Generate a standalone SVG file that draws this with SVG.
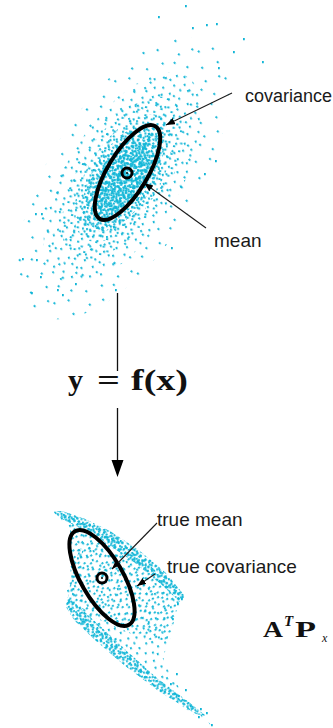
<svg xmlns="http://www.w3.org/2000/svg" width="333" height="728" viewBox="0 0 333 728">
<style>
.lbl{font-family:"Liberation Sans",Arial,sans-serif;font-size:19px;fill:#1a1a1a}
.math{font-family:"Liberation Serif","Times New Roman",serif;font-weight:bold;fill:#111}
.lead{stroke:#1a1a1a;stroke-width:1.1;fill:none}
.ell{fill:none;stroke:#000;stroke-width:4}
.mean{fill:none;stroke:#000;stroke-width:3}
.dot{fill:#12b6d7}
</style>
<defs>
<marker id="ah" markerUnits="userSpaceOnUse" markerWidth="10" markerHeight="8" refX="9" refY="3.5" orient="auto"><path d="M0,0 L9,3.5 L0,7 Z" fill="#000"/></marker>
<pattern id="pA" patternUnits="userSpaceOnUse" width="40" height="38" patternTransform="rotate(13)"><path class="dot" d="M3 4h1.8v2.2h-1.8zM22 1h1.8v2.2h-1.8zM34 9h1.8v2.2h-1.8zM13 15h1.8v2.2h-1.8zM28 22h1.8v2.2h-1.8zM6 27h1.8v2.2h-1.8zM19 33h1.8v2.2h-1.8zM37 30h1.8v2.2h-1.8z"/></pattern>
<pattern id="pB" patternUnits="userSpaceOnUse" width="34" height="30" patternTransform="rotate(37)"><path class="dot" d="M2 2h1.8v2.2h-1.8zM12 5h1.8v2.2h-1.8zM23 1h1.8v2.2h-1.8zM30 8h1.8v2.2h-1.8zM7 11h1.8v2.2h-1.8zM18 13h1.8v2.2h-1.8zM27 16h1.8v2.2h-1.8zM1 19h1.8v2.2h-1.8zM12 21h1.8v2.2h-1.8zM22 24h1.8v2.2h-1.8zM31 25h1.8v2.2h-1.8zM5 27h1.8v2.2h-1.8zM16 27.5h1.8v2.2h-1.8zM26 6h1.8v2.2h-1.8z"/></pattern>
<pattern id="pC" patternUnits="userSpaceOnUse" width="30" height="26" patternTransform="rotate(-21)"><path class="dot" d="M1 3h1.8v2.2h-1.8zM9 1h1.8v2.2h-1.8zM17 4h1.8v2.2h-1.8zM25 2h1.8v2.2h-1.8zM5 9h1.8v2.2h-1.8zM13 8h1.8v2.2h-1.8zM21 11h1.8v2.2h-1.8zM28 13h1.8v2.2h-1.8zM2 16h1.8v2.2h-1.8zM10 17h1.8v2.2h-1.8zM18 19h1.8v2.2h-1.8zM26 21h1.8v2.2h-1.8zM6 23h1.8v2.2h-1.8zM14 23.5h1.8v2.2h-1.8z"/></pattern>
<pattern id="pD" patternUnits="userSpaceOnUse" width="24" height="22" patternTransform="rotate(52)"><path class="dot" d="M2 1h1.8v2.2h-1.8zM9 3h1.8v2.2h-1.8zM15 0h1.8v2.2h-1.8zM21 4h1.8v2.2h-1.8zM5 7h1.8v2.2h-1.8zM12 9h1.8v2.2h-1.8zM19 10h1.8v2.2h-1.8zM1 12h1.8v2.2h-1.8zM8 14h1.8v2.2h-1.8zM15 15h1.8v2.2h-1.8zM22 16h1.8v2.2h-1.8zM4 19h1.8v2.2h-1.8zM11 19.5h1.8v2.2h-1.8zM18 19h1.8v2.2h-1.8zM13 5h1.8v2.2h-1.8zM6 2h1.8v2.2h-1.8z"/></pattern>
<pattern id="pD2" href="#pD" patternTransform="rotate(-40)"/>
<pattern id="pE" patternUnits="userSpaceOnUse" width="20" height="18" patternTransform="rotate(8)"><path class="dot" d="M1 2h1.8v2.2h-1.8zM5 0h1.8v2.2h-1.8zM9 3h1.8v2.2h-1.8zM14 1h1.8v2.2h-1.8zM18 4h1.8v2.2h-1.8zM3 7h1.8v2.2h-1.8zM7 9h1.8v2.2h-1.8zM12 6h1.8v2.2h-1.8zM16 8h1.8v2.2h-1.8zM0 12h1.8v2.2h-1.8zM5 13h1.8v2.2h-1.8zM10 11h1.8v2.2h-1.8zM14 14h1.8v2.2h-1.8zM18 12h1.8v2.2h-1.8zM2 15.5h1.8v2.2h-1.8zM8 15.5h1.8v2.2h-1.8zM12 15.5h1.8v2.2h-1.8zM16 15.5h1.8v2.2h-1.8z"/></pattern>
<pattern id="pE2" href="#pE" patternTransform="rotate(-27)"/>
<pattern id="pE3" href="#pE" patternTransform="rotate(71)"/>
</defs>

<g id="top-cloud">
<g transform="translate(123,178) rotate(-58)">
<ellipse rx="160" ry="74" fill="url(#pA)"/>
<ellipse rx="120" ry="56" fill="url(#pB)"/>
<ellipse rx="92" ry="44" fill="url(#pC)"/>
<ellipse rx="72" ry="36" fill="url(#pD)"/>
<ellipse rx="60" ry="30" fill="url(#pE)"/>
<ellipse rx="50" ry="25" fill="url(#pD2)"/>
<ellipse rx="44" ry="22" fill="url(#pE3)"/>
<ellipse rx="38" ry="18" fill="url(#pE2)"/>
</g>
<path class="dot" d="M185 5h1.8v2.2h-1.8zM158 16h1.8v2.2h-1.8zM192 27h1.8v2.2h-1.8zM206 24h1.8v2.2h-1.8zM216 23h1.8v2.2h-1.8zM243 38h1.8v2.2h-1.8zM233 51h1.8v2.2h-1.8zM262 61h1.8v2.2h-1.8zM218 67h1.8v2.2h-1.8zM22 258h1.8v2.2h-1.8zM36 259h1.8v2.2h-1.8zM40 276h1.8v2.2h-1.8zM31 292h1.8v2.2h-1.8zM57 289h1.8v2.2h-1.8zM62 294h1.8v2.2h-1.8zM75 283h1.8v2.2h-1.8zM35 213h1.8v2.2h-1.8zM41 213h1.8v2.2h-1.8zM115 289h1.8v2.2h-1.8zM171 247h1.8v2.2h-1.8zM215 160h1.8v2.2h-1.8zM204 173h1.8v2.2h-1.8z"/>
</g>
<g id="top-ellipse">
<ellipse class="ell" cx="127.5" cy="172.5" rx="54" ry="20" transform="rotate(-59 127.5 172.5)"/>
<circle class="mean" cx="127" cy="173" r="5"/>
<circle cx="127" cy="173" r="1" fill="#000"/>
</g>

<g id="bottom-cloud">
<path fill="url(#pC)" d="M54,512 L75,517 L100,527 L130,549 L160,574 L184,597 L176,612 L169,632 L163,662 L185,697 L213,727 L196,716 L168,696 L138,671 L108,645 L84,625 L69,610 L65,590 L68,570 L70,548 L66,528 Z"/>
<path fill="url(#pD)" d="M70,520 L100,527 L130,549 L160,574 L184,597 L176,612 L170,640 L150,640 L120,630 L90,615 L72,600 L70,560 Z"/>
<path fill="url(#pE)" d="M52,511 L62,511 L85,519 L110,531 L140,551 L166,573 L185,596 L180,602 L162,585 L135,563 L105,542 L80,528 L62,519 Z"/>
<path fill="url(#pE3)" d="M52,511 L62,511 L85,519 L110,531 L140,551 L166,573 L185,596 L180,602 L162,585 L135,563 L105,542 L80,528 L62,519 Z"/>
<path fill="url(#pD2)" d="M52,511 L62,511 L85,519 L110,531 L140,551 L166,573 L185,596 L180,602 L162,585 L135,563 L105,542 L80,528 L62,519 Z"/>
<path fill="url(#pE2)" d="M67,597 L76,604 L100,626 L128,652 L158,679 L190,703 L206,716 L196,714 L160,692 L124,665 L95,640 L74,620 L66,607 Z"/>
<path fill="url(#pE3)" d="M67,597 L76,604 L100,626 L128,652 L158,679 L190,703 L206,716 L196,714 L160,692 L124,665 L95,640 L74,620 L66,607 Z"/>
<path fill="url(#pD)" d="M67,597 L76,604 L100,626 L128,652 L158,679 L190,703 L206,716 L196,714 L160,692 L124,665 L95,640 L74,620 L66,607 Z"/>
<path fill="url(#pE)" d="M80,548 L74,565 L70,585 L68,600 L73,600 L75,585 L78,565 L84,550 Z"/>
<path class="dot" d="M185 689h1.8v2.2h-1.8zM178 695h1.8v2.2h-1.8zM200 708h1.8v2.2h-1.8zM206 712h1.8v2.2h-1.8zM170 683h1.8v2.2h-1.8zM176 673h1.8v2.2h-1.8zM190 705h1.8v2.2h-1.8zM211 724h1.8v2.2h-1.8zM198 716h1.8v2.2h-1.8zM181 598h1.8v2.2h-1.8zM177 603h1.8v2.2h-1.8zM172 618h1.8v2.2h-1.8z"/>
</g>
<g id="bottom-ellipse">
<ellipse class="ell" cx="102" cy="578" rx="54" ry="21" transform="rotate(60 102 578)"/>
<circle class="mean" cx="102" cy="578" r="5"/>
<circle cx="102" cy="578" r="1" fill="#000"/>
</g>

<g id="connectors">
<line class="lead" x1="232" y1="93" x2="166" y2="125" marker-end="url(#ah)"/>
<line class="lead" x1="206" y1="228" x2="144" y2="183" marker-end="url(#ah)"/>
<line class="lead" x1="157" y1="523" x2="112" y2="569" marker-end="url(#ah)"/>
<line class="lead" x1="155" y1="574" x2="137" y2="586" marker-end="url(#ah)"/>
<line x1="117.5" y1="293" x2="117.5" y2="371" stroke="#111" stroke-width="1.3"/>
<line x1="117.5" y1="408" x2="117.5" y2="462" stroke="#111" stroke-width="1.3"/>
<polygon points="111.5,460 123.5,460 117.5,477" fill="#000"/>
</g>

<g id="labels">
<text class="lbl" x="245" y="102" style="font-size:18px">covariance</text>
<text class="lbl" x="214" y="247">mean</text>
<text class="lbl" x="157" y="526">true mean</text>
<text class="lbl" x="167" y="573">true covariance</text>
</g>

<g id="transform-label" class="math">
<text x="68" y="390" font-size="30">y</text>
<text x="97" y="390" font-size="30" textLength="23" lengthAdjust="spacingAndGlyphs">=</text>
<text x="131" y="390" font-size="30" textLength="57" lengthAdjust="spacingAndGlyphs">f(x)</text>
</g>

<g id="formula" class="math">
<text x="263" y="637" font-size="23" textLength="20" lengthAdjust="spacingAndGlyphs">A</text>
<text x="284" y="626" font-size="15" font-style="italic">T</text>
<text x="295" y="637" font-size="23" textLength="21" lengthAdjust="spacingAndGlyphs">P</text>
<text x="322" y="642" font-size="12" font-style="italic" font-weight="normal">x</text>
</g>
</svg>
